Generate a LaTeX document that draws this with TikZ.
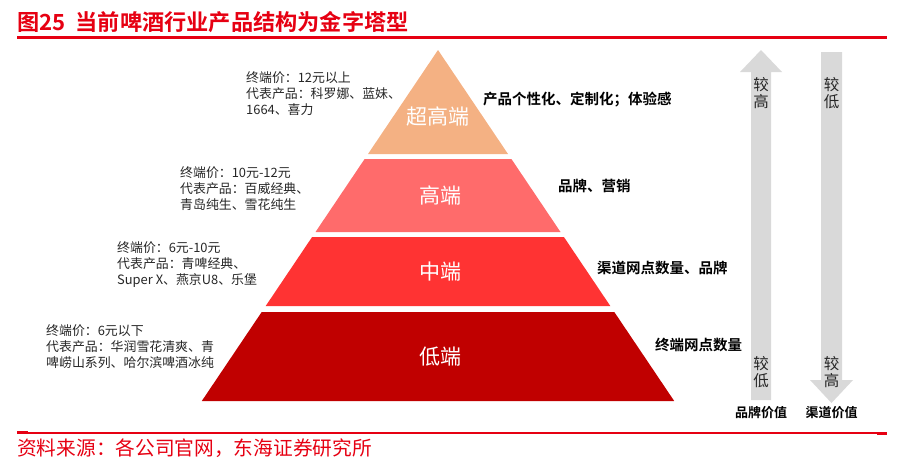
\documentclass[tikz,border=0pt]{standalone}
\usepackage{fontspec}
\setmainfont{Noto Sans CJK SC}[BoldFont=Noto Sans CJK SC Bold]
\definecolor{titlered}{HTML}{E60012}
\definecolor{lvA}{HTML}{F4B183}
\definecolor{lvB}{HTML}{FF6B6B}
\definecolor{lvC}{HTML}{FF3333}
\definecolor{lvD}{HTML}{C00000}
\definecolor{arrgray}{HTML}{D9D9D9}
\definecolor{txtgray}{HTML}{262626}
\tikzset{
  lefttxt/.style={anchor=west,align=left,inner sep=0pt,text=txtgray,font=\fontsize{12.9}{16}\selectfont},
  righttxt/.style={anchor=west,inner sep=0pt,text=black,font=\fontsize{14.5}{17}\selectfont\bfseries},
  lvtxt/.style={inner sep=0pt,text=white,font=\fontsize{21}{24}\selectfont},
  arrtxt/.style={inner sep=0pt,text=txtgray,align=center,font=\fontsize{15.5}{17}\selectfont},
  captxt/.style={inner sep=0pt,text=black,font=\fontsize{13}{15}\selectfont\bfseries},
}
\begin{document}
\begin{tikzpicture}[x=1pt,y=-1pt]
\useasboundingbox (0,0) rectangle (901,469);
% title
\node[anchor=west,inner sep=0pt,text=titlered,font=\fontsize{22.2}{24}\selectfont\bfseries] (title) at (17,22) {图25\ \ 当前啤酒行业产品结构为金字塔型};
\draw[titlered,line width=3pt] (17,37) -- (887,37);
% pyramid
\fill[lvA] (438,50) -- (508,154) -- (368,154) -- cycle;
\fill[lvB] (364.6,159) -- (511.4,159) -- (560.5,232) -- (315.5,232) -- cycle;
\fill[lvC] (312.1,237) -- (563.9,237) -- (610.3,306) -- (265.7,306) -- cycle;
\fill[lvD] (261.7,312) -- (614.3,312) -- (674.2,401) -- (201.8,401) -- cycle;
\node[lvtxt] (l1) at (438,117) {超高端};
\node[lvtxt] (l2) at (440,196) {高端};
\node[lvtxt] (l3) at (440,272) {中端};
\node[lvtxt] (l4) at (440,357) {低端};
% left texts
\node[lefttxt] (t1) at (246,94) {终端价：12元以上\\代表产品：科罗娜、蓝妹、\\1664、喜力};
\node[lefttxt] (t2) at (180,189) {终端价：10元-12元\\代表产品：百威经典、\\青岛纯生、雪花纯生};
\node[lefttxt] (t3) at (117,265) {终端价：6元-10元\\代表产品：青啤经典、\\Super X、燕京U8、乐堡};
\node[lefttxt] (t4) at (46,347) {终端价：6元以下\\代表产品：华润雪花清爽、青\\啤崂山系列、哈尔滨啤酒冰纯};
% right texts
\node[righttxt] (r1) at (483,100) {产品个性化、定制化；体验感};
\node[righttxt] (r2) at (558,186) {品牌、营销};
\node[righttxt] (r3) at (597,268) {渠道网点数量、品牌};
\node[righttxt] (r4) at (655,345) {终端网点数量};
% arrows
\fill[arrgray] (751,400) -- (751,72) -- (740,72) -- (761,50) -- (782,72) -- (771,72) -- (771,400) -- cycle;
\fill[arrgray] (821,52) -- (842,52) -- (842,380) -- (853,380) -- (831.5,403) -- (810,380) -- (821,380) -- cycle;
\node[arrtxt] (a1) at (761,93) {较\\高};
\node[arrtxt] (a2) at (761,372) {较\\低};
\node[arrtxt] (b1) at (831.5,93) {较\\低};
\node[arrtxt] (b2) at (831.5,372) {较\\高};
\node[captxt] (c1) at (761,413) {品牌价值};
\node[captxt] (c2) at (831.5,413) {渠道价值};
% bottom
\draw[titlered,line width=1.5pt] (17,433) -- (887,433);
\fill[titlered] (17,431) rectangle (28,434);
\fill[titlered] (877,432) rectangle (887,435);
\node[anchor=west,inner sep=0pt,text=titlered,font=\fontsize{19.7}{22}\selectfont] (src) at (17,448) {资料来源：各公司官网，东海证券研究所};
\end{tikzpicture}
\end{document}
